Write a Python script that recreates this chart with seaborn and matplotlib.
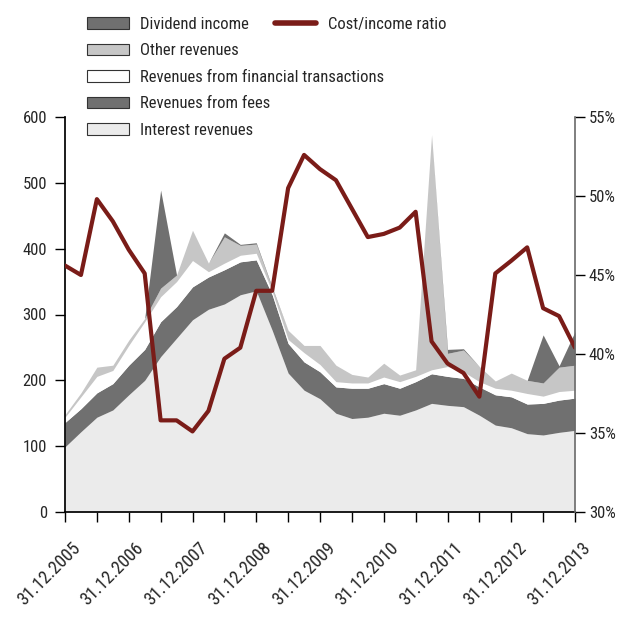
import numpy as np
import pandas as pd
import matplotlib
matplotlib.use("Agg")
import matplotlib.pyplot as plt
import matplotlib.transforms as mtransforms
from matplotlib import font_manager
from matplotlib.patches import Patch
from matplotlib.lines import Line2D
import seaborn as sns

# Quarterly reporting dates
quarters = pd.date_range("2005-12-31", "2013-12-31", freq="QE")

# Revenue components (EUR m), stacked bottom to top
interest = [99, 122, 144, 155, 178, 200, 236, 264, 292, 308, 316, 330, 336,
            276, 211, 185, 172, 150, 142, 144, 150, 147, 155, 165, 162, 160,
            147, 132, 128, 119, 117, 121, 124]
fees = [37, 35, 37, 40, 45, 47, 53, 48, 50, 49, 52, 50, 47,
        54, 45, 43, 41, 40, 46, 44, 45, 41, 43, 45, 44, 43,
        43, 46, 47, 45, 48, 49, 49]
financial = [8, 18, 25, 20, 30, 42, 38, 38, 40, 8, 10, 10, 10,
             5, 6, 14, 11, 8, 8, 8, 10, 10, 8, 6, 15, 10,
             8, 10, 10, 16, 11, 13, 12]
other = [4, 6, 14, 8, 8, 5, 13, 10, 46, 13, 40, 15, 14,
         5, 14, 11, 29, 25, 13, 9, 21, 10, 10, 357, 20, 33,
         23, 11, 26, 20, 20, 37, 38]
dividend = [0, 0, 0, 0, 0, 0, 149, 0, 0, 0, 6, 1.5, 2,
            1.5, 0, 0, 0, 0, 0, 0, 0, 0, 0, 0, 6, 2,
            0, 0, 0, 0, 73, 2, 51]

# Cost/income ratio (%)
cost_income = [45.6, 45.0, 49.8, 48.4, 46.6, 45.1, 35.8, 35.8, 35.1, 36.4,
               39.7, 40.4, 44.0, 44.0, 50.5, 52.6, 51.7, 51.0, 49.2, 47.4,
               47.6, 48.0, 49.0, 40.8, 39.4, 38.8, 37.3, 45.1, 45.9, 46.75,
               42.9, 42.4, 40.4]

series_names = ["Interest revenues", "Revenues from fees",
                "Revenues from financial transactions", "Other revenues",
                "Dividend income"]
series_colors = ["#ebebeb", "#707070", "#ffffff", "#c6c6c6", "#707070"]
line_color = "#7a1c18"

df = pd.DataFrame({"date": quarters, "Cost/income ratio": cost_income})
df["q"] = np.arange(len(df))

sns.set_theme(style="ticks")
available = {f.name for f in font_manager.fontManager.ttflist}
family = next((f for f in ["Liberation Sans Narrow", "Roboto Condensed",
                           "Liberation Sans", "DejaVu Sans"] if f in available))
plt.rcParams["font.family"] = [family, "DejaVu Sans"]
plt.rcParams["font.size"] = 12

fig = plt.figure(figsize=(6.22, 6.22), dpi=100)
ax = fig.add_axes([65 / 622, 110 / 622, 510 / 622, 395 / 622])

ax.stackplot(df["q"], interest, fees, financial, other, dividend,
             colors=series_colors, linewidth=0)
ax.set_xlim(0, len(df) - 1)
ax.set_ylim(0, 600)
ax.set_yticks(range(0, 601, 100))

ax2 = ax.twinx()
sns.lineplot(data=df, x="q", y="Cost/income ratio", ax=ax2,
             color=line_color, linewidth=3.0, legend=False)
ax2.set_ylim(30, 55)
ax2.set_yticks(range(30, 56, 5))
ax2.set_yticklabels([f"{v}%" for v in range(30, 56, 5)])
ax2.set_ylabel("")
ax.set_xlabel("")
ax2.set_xlabel("")

for a in (ax, ax2):
    a.spines["top"].set_visible(False)
ax.spines["left"].set_color("#000000")
ax.spines["bottom"].set_color("#000000")
ax.spines["right"].set_visible(False)
ax2.spines["left"].set_visible(False)
ax2.spines["bottom"].set_visible(False)
ax2.spines["right"].set_color("#6a6a6a")
ax2.spines["right"].set_linewidth(1.2)
ax.tick_params(axis="both", direction="out", length=7, width=1,
               color="#000000", labelsize=12, pad=5)
ax.tick_params(axis="x", labelsize=13)
ax.tick_params(axis="y", pad=6)
ax2.tick_params(axis="y", direction="out", length=7, width=1,
                color="#000000", labelsize=12, pad=3)

# x ticks every half year, labels every year
ax.set_xticks(np.arange(0, len(df), 2))
labels = [quarters[i].strftime("%d.%m.%Y") if i % 4 == 0 else ""
          for i in range(0, len(df), 2)]
ax.set_xticklabels(labels, rotation=45, ha="right", rotation_mode="anchor")
offset = mtransforms.ScaledTranslation(6 / 100, -10 / 100, fig.dpi_scale_trans)
for lab in ax.get_xticklabels():
    lab.set_transform(lab.get_transform() + offset)

handles = [Patch(facecolor=c, edgecolor="#333333", linewidth=0.8, label=n)
           for c, n in zip(series_colors[::-1], series_names[::-1])]
fig.legend(handles=handles, loc="upper left",
           bbox_to_anchor=(80 / 622, 1 - 10 / 622), frameon=False,
           fontsize=12, handlelength=2.55, handleheight=0.7,
           handletextpad=0.65, labelspacing=0.69, borderaxespad=0)
fig.legend(handles=[Line2D([], [], color=line_color, linewidth=4)],
           labels=["Cost/income ratio"], loc="upper left",
           bbox_to_anchor=(268 / 622, 1 - 10 / 622), frameon=False,
           fontsize=12, handlelength=2.5, handletextpad=0.7,
           borderaxespad=0)

fig.savefig("out.png", dpi=100)
